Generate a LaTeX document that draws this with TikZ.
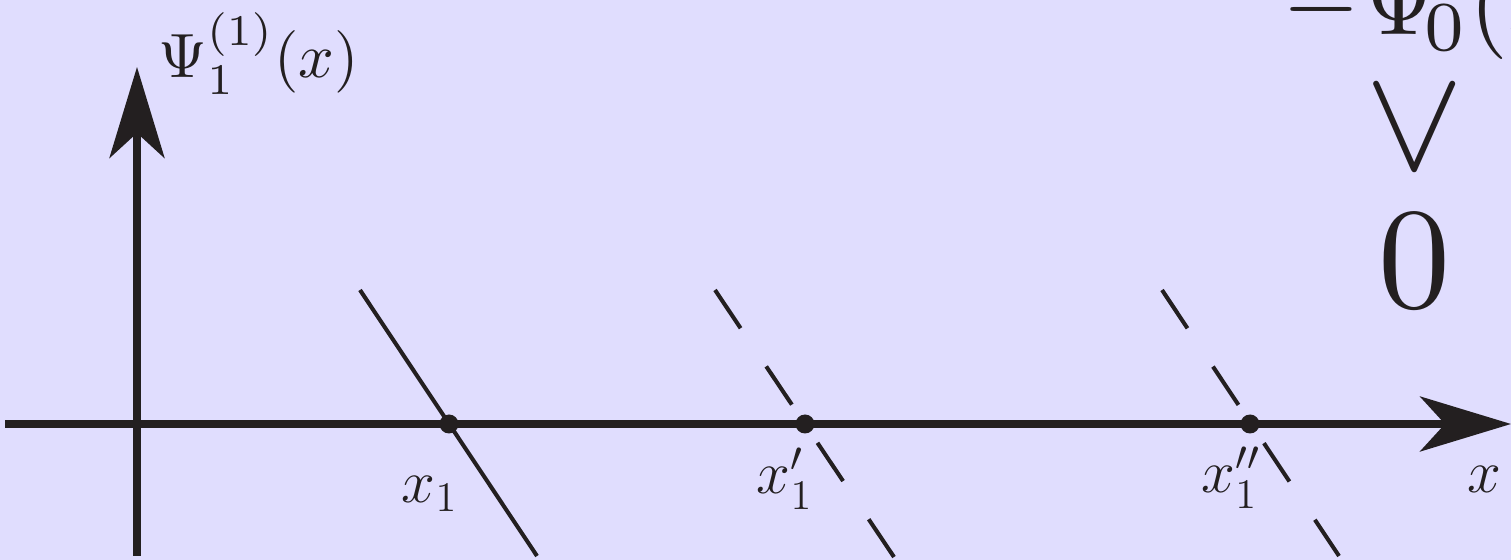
\documentclass[tikz,border=0pt]{standalone}
\usepackage{amsmath}
\usepackage{graphicx}
\usepackage{xcolor}
\usepackage{tikz}
\usetikzlibrary{arrows.meta}
\definecolor{slidebg}{RGB}{224,221,254}
\definecolor{ink}{RGB}{35,31,32}

\begin{document}
\begin{tikzpicture}[x=0.1mm,y=-0.1mm,
  >={Stealth[length=9.1mm,width=5.5mm,inset=2.5mm]},
  axis/.style={draw=ink,line width=2pt,->},
  root/.style={circle,fill=ink,inner sep=0pt,minimum size=1.9mm},
  lbl/.style={font=\fontsize{17.28}{21}\selectfont,text=ink,inner sep=0pt,anchor=base},
  big/.style={text=ink,inner sep=0pt},
  cut/.style={draw=ink,line width=1.15pt},
  ghost/.style={cut,dash pattern=on 4.6mm off 4.6mm}]
  \useasboundingbox (0,0) rectangle (1511,560);
  \fill[slidebg] (0,0) rectangle (1511,560);
  % axes
  \coordinate (xl) at (5,424);
  \coordinate (xr) at (1511,424);
  \coordinate (yb) at (137,556);
  \coordinate (yt) at (137,67);
  % tangent lines
  \coordinate (c1a) at (360,290);  \coordinate (c1b) at (537,556);
  \coordinate (c2a) at (715,290);  \coordinate (c2b) at (894,557);
  \coordinate (c3a) at (1162,290); \coordinate (c3b) at (1339,556);
  \draw[cut] (c1a) -- (c1b);
  \draw[ghost] (c2a) -- (c2b);
  \draw[ghost] (c3a) -- (c3b);
  \draw[axis] (xl) -- (xr);
  \draw[axis] (yb) -- (yt);
  \node[root] (r1) at (449,424) {};
  \node[root] (r2) at (805,424) {};
  \node[root] (r3) at (1250,424) {};
  % labels
  \node[lbl] (l1) at (430,502) {$x_1$};
  \node[lbl] (l2) at (785,494) {$x'_1$};
  \node[lbl] (l3) at (1231,493) {$x''_1$};
  \node[lbl] (lx) at (1484,493) {$x$};
  \node[big,anchor=base west] (lpsi) at (158,78) {\scalebox{1.78}{$\Psi_1^{(1)}(x)$}};
  % cut-off text at the right
  \node[big,anchor=base west] (top) at (1282,35) {\scalebox{2.85}{$-\Psi_{\!0}(x)$}};
  \node[big] (vee) at (1415,129) {\scalebox{4.2}{$\vee$}};
  \node[big] (zero) at (1415,261) {\scalebox{4.1}{$0$}};
\end{tikzpicture}
\end{document}
